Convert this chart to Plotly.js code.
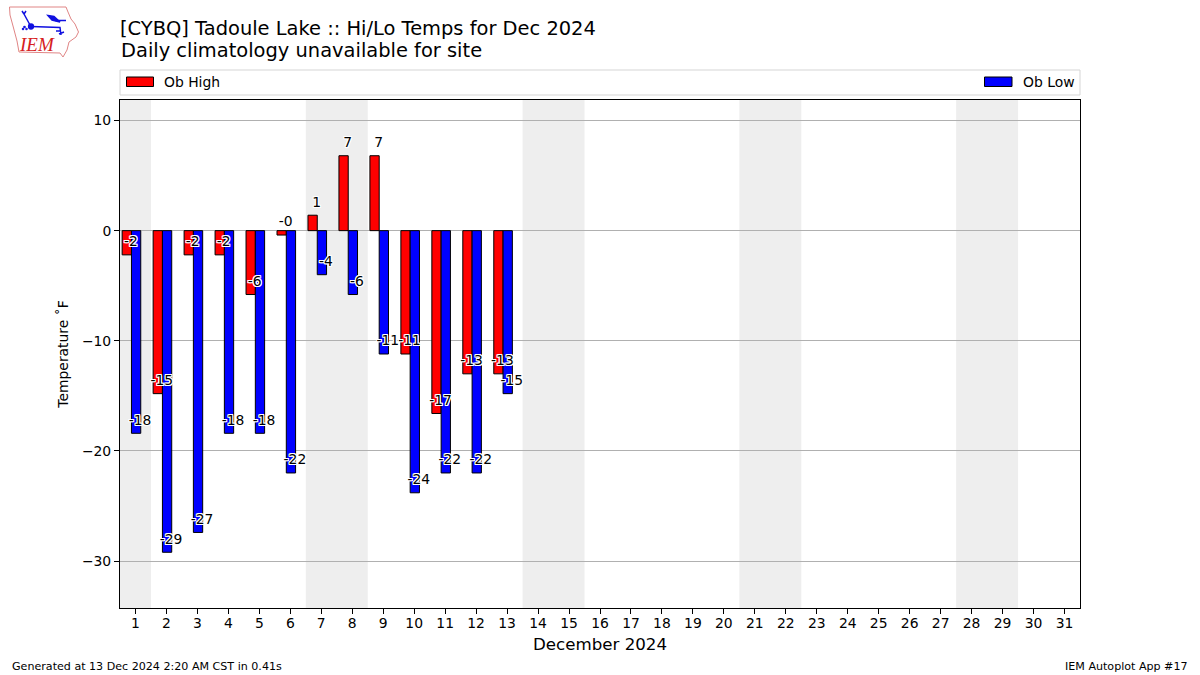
<!DOCTYPE html>
<html><head><meta charset="utf-8">
<script src="https://cdn.plot.ly/plotly-3.0.1.min.js"></script>
<style>html,body{margin:0;padding:0;background:#fff}</style></head>
<body><div id="chart" style="width:1200px;height:675px"></div>
<script>
const days = [1,2,3,4,5,6,7,8,9,10,11,12,13];
const obHigh = [-2.2,-14.8,-2.2,-2.2,-5.8,-0.4,1.4,6.8,6.8,-11.2,-16.6,-13,-13];
const obLow = [-18.4,-29.2,-27.4,-18.4,-18.4,-22,-4,-5.8,-11.2,-23.8,-22,-22,-14.8];
const highLabels = ["-2","-15","-2","-2","-6","-0","1","7","7","-11","-17","-13","-13"];
const lowLabels = ["-18","-29","-27","-18","-18","-22","-4","-6","-11","-24","-22","-22","-15"];
const xTicks = Array.from({length:31},(_,i)=>i+1);
const weekends = [[0.5,1.5],[6.5,8.5],[13.5,15.5],[20.5,22.5],[27.5,29.5]];
const FONT = "DejaVu Sans";
const halo = "1px 0 0 #fff,-1px 0 0 #fff,0 1px 0 #fff,0 -1px 0 #fff,1px 1px 0 #fff,-1px -1px 0 #fff,1px -1px 0 #fff,-1px 1px 0 #fff";
const labelLift = 1.1;

const logoSvg = `<svg xmlns="http://www.w3.org/2000/svg" width="80" height="60" viewBox="0 0 80 60"><path d="M9.5 7 L66 7 L68 12 L71 19 L75 24 L78.5 32 L76 37 L69 42 L67 50 L63 57 L60 53 L19 52 L17 41 L13 26 L10 15 Z" fill="none" stroke="#e08585" stroke-width="1"/><g stroke="#1010e0" fill="none" stroke-width="1.5"><path d="M31 26.5 L60 27.5 L61 35 M55 20.5 L66 20.5 M24 14 L30 25 M24 14 L22 11 M24 14 L26 11 M56 31 L61 31 M59 34 L64 32"/><path d="M48 15.5 L54 16.5 L60 22 L52 20 Z" fill="#1010e0"/><circle cx="31" cy="26.5" r="2.4" fill="#1010e0"/><circle cx="24.5" cy="27" r="0.6" fill="#1010e0"/><circle cx="26.5" cy="29" r="0.5" fill="#1010e0"/><circle cx="23" cy="29" r="0.5" fill="#1010e0"/></g></svg>`;

const bandShapes = weekends.map(w=>({type:"rect",layer:"below",xref:"x",yref:"paper",x0:w[0],x1:w[1],y0:0,y1:1,fillcolor:"#eeeeee",line:{width:0}}));
const legendShapes = [
  {type:"rect",xref:"paper",yref:"paper",x0:0,x1:1,y0:(100-95)/508+1,y1:(100-70)/508+1,line:{color:"#d5d5d5",width:1},fillcolor:"#fff"},
  {type:"rect",xref:"paper",yref:"paper",x0:(126.5-120)/960,x1:(153.5-120)/960,y0:(100-86.5)/508+1,y1:(100-77)/508+1,fillcolor:"#ff0000",line:{color:"#000",width:1}},
  {type:"rect",xref:"paper",yref:"paper",x0:(984.5-120)/960,x1:(1012-120)/960,y0:(100-86.5)/508+1,y1:(100-77)/508+1,fillcolor:"#0000ff",line:{color:"#000",width:1}}
];
const barTrace=(name,vals,color,offset)=>({type:"bar",name,x:days,y:vals,width:0.3,offset,marker:{color,line:{color:"#000",width:1}},cliponaxis:true,showlegend:false,hoverinfo:"x+y"});
const textTrace=(vals,labels,dx)=>({type:"scatter",mode:"text",x:days.map(d=>d+dx),y:vals.map(v=>v+labelLift),text:labels,textposition:"middle center",textfont:{family:FONT,size:13.9,color:"#000",shadow:halo},showlegend:false,hoverinfo:"skip"});

const data=[barTrace("Ob High",obHigh,"#ff0000",-0.43),barTrace("Ob Low",obLow,"#0000ff",-0.13),textTrace(obHigh,highLabels,-0.15),textTrace(obLow,lowLabels,0.15)];

const layout={
  width:1200,height:675,autosize:false,
  paper_bgcolor:"#fff",plot_bgcolor:"#fff",
  font:{family:FONT,size:13.9,color:"#000"},
  margin:{l:120,r:120,t:100,b:67,pad:0},
  barmode:"overlay",
  title:{text:"[CYBQ] Tadoule Lake :: Hi/Lo Temps for Dec 2024",font:{family:FONT,size:19.45,color:"#000"},x:0.1,xanchor:"left",xref:"container",y:0.958,yanchor:"middle",yref:"container"},
  xaxis:{range:[0.5,31.5],tickmode:"array",tickvals:xTicks,ticktext:xTicks.map(String),ticks:"outside",ticklen:5,tickwidth:1,tickcolor:"#000",ticklabelstandoff:-3,showline:true,mirror:true,linecolor:"#000",linewidth:1,showgrid:false,zeroline:false,title:{text:"December 2024",font:{family:FONT,size:16.67},standoff:8},automargin:false,tickfont:{size:13.9}},
  yaxis:{range:[-34.26,11.86],tickmode:"array",tickvals:[-30,-20,-10,0,10],ticks:"outside",ticklen:5,tickwidth:1,tickcolor:"#000",showline:true,mirror:true,linecolor:"#000",linewidth:1,showgrid:true,gridcolor:"#b0b0b0",gridwidth:1,zeroline:false,title:{text:"Temperature ˚F",font:{family:FONT,size:13.9},standoff:10},automargin:false,tickfont:{size:13.9}},
  shapes:[...bandShapes,...legendShapes],
  images:[{source:"data:image/svg+xml;utf8,"+encodeURIComponent(logoSvg),xref:"paper",yref:"paper",x:-120/960,y:1+100/508,sizex:80/960,sizey:60/508,xanchor:"left",yanchor:"top",sizing:"stretch",layer:"above"}],
  annotations:[
    {text:"Daily climatology unavailable for site",xref:"paper",yref:"paper",x:0,y:1+(100-51)/508,xanchor:"left",yanchor:"middle",showarrow:false,font:{family:FONT,size:19.45,color:"#000"},xshift:-1.5},
    {text:"Ob High",xref:"paper",yref:"paper",x:(164-120)/960,y:1+(100-82)/508,xanchor:"left",yanchor:"middle",showarrow:false,font:{size:13.9},xshift:-2},
    {text:"Ob Low",xref:"paper",yref:"paper",x:(1023-120)/960,y:1+(100-82)/508,xanchor:"left",yanchor:"middle",showarrow:false,font:{size:13.9},xshift:-2},
    {text:"Generated at 13 Dec 2024 2:20 AM CST in 0.41s",xref:"paper",yref:"paper",x:(12-120)/960,y:-(666-608)/508,xanchor:"left",yanchor:"middle",showarrow:false,font:{size:11.1},xshift:-2},
    {text:"IEM Autoplot App #17",xref:"paper",yref:"paper",x:(1188-120)/960,y:-(666-608)/508,xanchor:"right",yanchor:"middle",showarrow:false,font:{size:11.1},xshift:2},
    {text:"<i>IEM</i>",xref:"paper",yref:"paper",x:(37-120)/960,y:1+(100-45)/508,xanchor:"center",yanchor:"middle",showarrow:false,font:{family:"Liberation Serif",size:19,color:"#d62020"}}
  ]
};
Plotly.newPlot("chart",data,layout,{displayModeBar:false,staticPlot:true});
</script></body></html>
